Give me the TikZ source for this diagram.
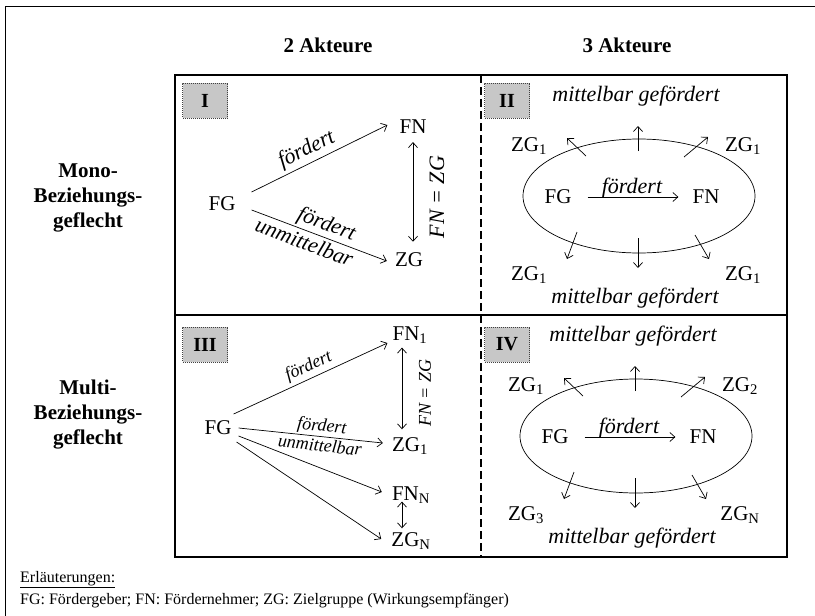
\documentclass[tikz,border=0pt]{standalone}
\usepackage{fontspec}
\setmainfont{Liberation Serif}
\usetikzlibrary{calc,shapes.geometric,arrows.meta}
\tikzset{
  nm/.style={font=\fontsize{21}{21}\selectfont, inner sep=0pt},
  lbl/.style={font=\fontsize{22}{22}\selectfont\itshape, inner sep=1pt},
  lbls/.style={font=\fontsize{18}{18}\selectfont\itshape, inner sep=1pt},
  hdr/.style={font=\fontsize{21}{25}\selectfont\bfseries, align=center},
  badge/.style={draw=black!75, dash pattern=on 1pt off 1pt, line width=0.6pt, fill=black!22,
     minimum width=45pt, minimum height=35pt, inner sep=0pt, font=\fontsize{20}{20}\selectfont\bfseries},
  arr/.style={line width=0.7pt},
  grid/.style={line width=2.5pt},
  foot/.style={font=\fontsize{16}{16}\selectfont, anchor=west, inner sep=0pt}
}
\newcommand{\ellpanel}[7]{%
\begin{scope}[shift={(#1,#2)}]
  \node[ellipse, draw, line width=0.7pt, minimum width=232pt, minimum height=114pt, inner sep=0pt] (#3E) at (0,0) {};
  \node[lbl] (#3top) at (-3,-100) {mittelbar gefördert};
  \node[lbl] (#3bot) at (-4,102) {mittelbar gefördert};
  \node[nm] (#3FG) at (-81,1) {FG};
  \node[nm] (#3FN) at (67,1) {FN};
  \draw[arr,->,shorten <=16pt,shorten >=14pt] (#3FG) -- (#3FN) node[midway, above=-3pt, lbl]{fördert};
  \node[nm] (#3TL) at (-110,-50) {#4};
  \node[nm] (#3TR) at (104,-50) {#5};
  \node[nm] (#3BL) at (-110,79) {#6};
  \node[nm] (#3BR) at (104,79) {#7};
  \coordinate (#3a1) at (-1,-45);  \coordinate (#3b1) at (-1,-70);
  \coordinate (#3a2) at (-53,-40); \coordinate (#3b2) at (-72,-58);
  \coordinate (#3a3) at (45,-39);  \coordinate (#3b3) at (69,-59);
  \coordinate (#3a4) at (-62,36);  \coordinate (#3b4) at (-72,63);
  \coordinate (#3a5) at (-1,42);   \coordinate (#3b5) at (-1,72);
  \coordinate (#3a6) at (56,39);   \coordinate (#3b6) at (70,63);
  \foreach \k in {1,...,6} {\draw[arr,->] (#3a\k) -- (#3b\k);}
\end{scope}}
\begin{document}
\begin{tikzpicture}[x=1pt,y=-1pt,>={Straight Barb[length=5pt,width=9pt]}]
\useasboundingbox (0,0) rectangle (815,616);
% page frame
\draw[line width=0.8pt] (5,616) -- (5,6) -- (815,6);
% headers
\node[hdr] (h2) at (328,45) {2 Akteure};
\node[hdr] (h3) at (627,45) {3 Akteure};
\node[hdr] (r1) at (88,198) {Mono-\\Beziehungs-\\geflecht};
\node[hdr] (r2) at (88,415) {Multi-\\Beziehungs-\\geflecht};
% grid
\draw[grid] (175,75) rectangle (787,557);
\draw[grid] (175,315) -- (787,315);
\draw[grid, dash pattern=on 8pt off 4pt] (481,75) -- (481,557);
% badges
\node[badge] (bI) at (205,100.5) {I};
\node[badge] (bII) at (507,100.5) {II};
\node[badge] (bIII) at (205,344.5) {III};
\node[badge] (bIV) at (507,344.5) {IV};
% panel I
\node[nm] (FGa) at (222,204) {FG};
\node[nm] (FNa) at (413,127) {FN};
\node[nm] (ZGa) at (409,260) {ZG};
\draw[arr,->] ([shift={(16,-12)}]FGa.east) -- ([shift={(-12,-2)}]FNa.west)
   node[pos=0.45, above=2pt, sloped, lbl]{fördert};
\draw[arr,->] ([shift={(16,6)}]FGa.east) -- ([shift={(-8,1)}]ZGa.west)
   node[pos=0.52, above=1pt, sloped, lbl]{fördert}
   node[pos=0.42, below=2pt, sloped, lbl]{unmittelbar};
\draw[arr,<->,shorten <=8pt,shorten >=11pt] (FNa.south) -- (FNa.south |- ZGa.north);
\node[lbl, rotate=90] (eqa) at (437,197) {FN = ZG};
% panel III
\node[nm] (FGc) at (218,428) {FG};
\node[nm] (FNc) at (410,335) {FN\textsubscript{1}};
\node[nm] (ZGc) at (410,446) {ZG\textsubscript{1}};
\node[nm] (FNNc) at (411,495) {FN\textsubscript{N}};
\node[nm] (ZGNc) at (411,541) {ZG\textsubscript{N}};
\draw[arr,->] ([shift={(2,-14)}]FGc.east) -- ([shift={(-5,8)}]FNc.west)
   node[pos=0.52, above=2pt, sloped, lbls]{fördert};
\draw[arr,->] ([shift={(7,0)}]FGc.east) -- ([shift={(-9,-3)}]ZGc.west)
   node[pos=0.57, above=0pt, sloped, lbls]{fördert}
   node[pos=0.57, below=1pt, sloped, lbls]{unmittelbar};
\draw[arr,->] ([shift={(7,8)}]FGc.east) -- ([shift={(-10,-3)}]FNNc.west);
\draw[arr,->] ([shift={(5,14)}]FGc.east) -- ([shift={(-10,-2)}]ZGNc.west);
\draw[arr,<->,shorten <=4pt,shorten >=8pt] ([xshift=-8pt]FNc.south) -- ([xshift=-8pt]FNc.south |- ZGc.north);
\draw[arr,<->,shorten <=-2pt,shorten >=4pt] ([xshift=-9pt]FNNc.south) -- ([xshift=-9pt]FNNc.south |- ZGNc.north);
\node[lbls, rotate=90] (eqc) at (425,393) {FN = ZG};
% panels II and IV
\ellpanel{639}{196}{pII}{ZG\textsubscript{1}}{ZG\textsubscript{1}}{ZG\textsubscript{1}}{ZG\textsubscript{1}}
\ellpanel{636}{436}{pIV}{ZG\textsubscript{1}}{ZG\textsubscript{2}}{ZG\textsubscript{3}}{ZG\textsubscript{N}}
% footer
\node[foot] (f1) at (20,580) {\underline{Erläuterungen:}};
\node[foot] (f2) at (20,601) {FG: Fördergeber; FN: Fördernehmer; ZG: Zielgruppe (Wirkungsempfänger)};
\end{tikzpicture}
\end{document}
